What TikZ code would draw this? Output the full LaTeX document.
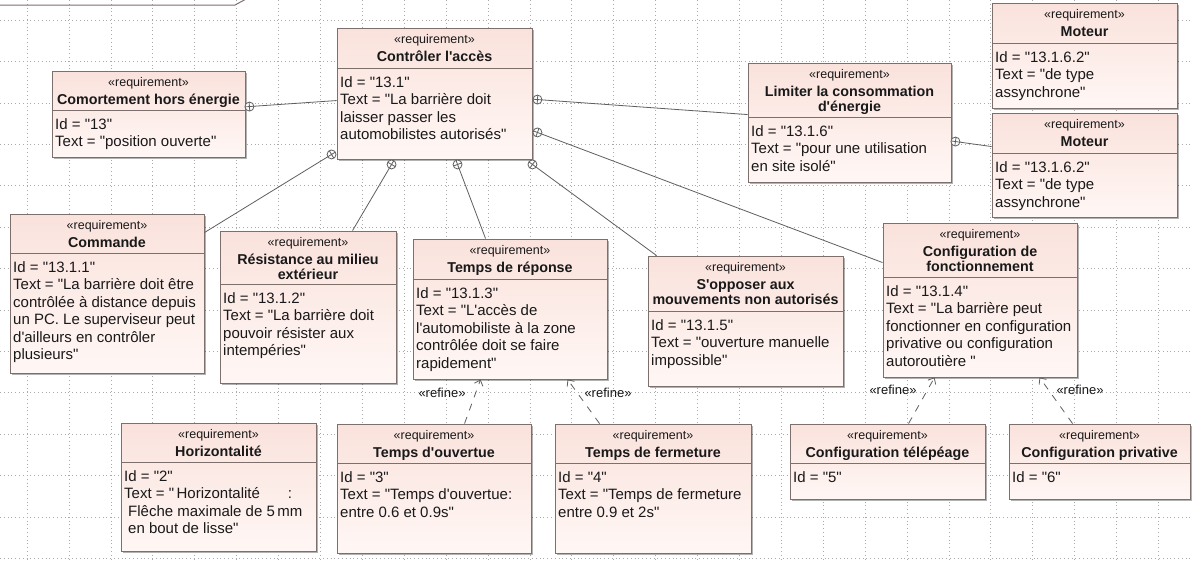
\documentclass[tikz,border=0pt]{standalone}
\usepackage{fontspec}
\setmainfont{Liberation Sans}[Ligatures=TeXOff]
\usetikzlibrary{calc,shadows,arrows.meta}
\definecolor{boxline}{RGB}{125,112,108}
\definecolor{hdrfill}{RGB}{250,226,220}
\definecolor{bodyfill}{RGB}{255,247,245}
\definecolor{conn}{RGB}{95,95,95}
\definecolor{txt}{RGB}{25,25,25}
\definecolor{gridc}{RGB}{170,170,170}
\newcommand\rqstereofont{\fontsize{12.5}{14}\selectfont\mdseries}
\newcommand\rqtitlefont{\fontsize{14.3}{15.5}\selectfont\bfseries}
\newcommand\rqbodyfont{\fontsize{15}{17.5}\selectfont}
\tikzset{
  reqshape/.style={rectangle, draw=boxline, line width=0.9pt, inner sep=0pt,
    top color=hdrfill, bottom color=bodyfill,
    drop shadow={shadow xshift=2pt, shadow yshift=-2pt, fill=black, opacity=0.3}},
  divline/.style={draw=boxline, line width=0.9pt},
  hdrtext/.style={anchor=north, align=center, inner sep=0pt, font=\rqtitlefont, text=txt},
  bodytext/.style={anchor=north west, align=left, inner sep=0pt, font=\rqbodyfont, text=txt},
  connline/.style={draw=conn, line width=0.8pt},
  refline/.style={draw=conn, line width=0.8pt, dash pattern=on 7pt off 7pt,
    -{Straight Barb[length=5pt,width=9pt]}},
  reflabel/.style={inner sep=0pt, font=\fontsize{13}{14}\selectfont, text=txt},
  gridline/.style={draw=gridc, line width=0.5pt, dash pattern=on 0.8pt off 3pt},
}
\newcommand\reqbox[8]{%
  \node[reqshape, minimum width={(#4-#2)*1pt}, minimum height={(#5-#3)*1pt}] (#1) at ({(#2+#4)/2},{(#3+#5)/2}) {};
  \draw[divline] (#2,#6) -- (#4,#6);
  \node[hdrtext] (#1-h) at ({(#2+#4)/2},#3+6) {{\rqstereofont «requirement»}\\[2.5pt]#7};
  \node[bodytext] (#1-b) at (#2+3,#6+8) {#8};
}
\newcommand\containln[2]{%
  \draw[connline] ($(#1)!4.5pt!(#2)$) -- (#2);
  \draw[connline, fill=white] (#1) circle[radius=4.5pt];
  \draw[connline] ($(#1)!4.5pt!(#2)$) -- ($(#1)!-4.5pt!(#2)$)
                  ($(#1)!4.5pt!90:(#2)$) -- ($(#1)!4.5pt!-90:(#2)$);
}
\begin{document}
\begin{tikzpicture}[x=1pt,y=-1pt]
\useasboundingbox (0,0) rectangle (1192,560);
\fill[white] (0,0) rectangle (1192,560);
% grid
\foreach \gx in {0,...,27} \draw[gridline] ({27+41.9*\gx},0) -- ++(0,560);
\foreach \gy in {0,...,13} \draw[gridline] (0,{20+41.4*\gy}) -- ++(1192,0);
% frame tab (cut off)
\draw[draw=boxline, line width=1pt] (-1,5) -- (235,5) -- (248,-2);

% boxes
\reqbox{comort}{52}{71}{245}{157}{110}{Comortement hors énergie}{Id = "13"\\Text = "position ouverte"}
\reqbox{ctrl}{337}{28}{532}{159}{68}{Contrôler l'accès}{Id = "13.1"\\Text = "La barrière doit\\laisser passer les\\automobilistes autorisés"}
\reqbox{limit}{748}{63}{951}{182}{117}{Limiter la consommation\\d'énergie}{Id = "13.1.6"\\Text = "pour une utilisation\\en site isolé"}
\reqbox{motA}{992}{3}{1177}{108}{43}{Moteur}{Id = "13.1.6.2"\\Text = "de type\\assynchrone"}
\reqbox{motB}{992}{113}{1177}{217}{153}{Moteur}{Id = "13.1.6.2"\\Text = "de type\\assynchrone"}
\reqbox{cmd}{10}{214}{204}{373}{253}{Commande}{Id = "13.1.1"\\Text = "La barrière doit être\\contrôlée à distance depuis\\un PC. Le superviseur peut\\d'ailleurs en contrôler\\plusieurs"}
\reqbox{resist}{220}{231}{396}{383}{284}{Résistance au milieu\\extérieur}{Id = "13.1.2"\\Text = "La barrière doit\\pouvoir résister aux\\intempéries"}
\reqbox{trep}{413}{239}{607}{379}{279}{Temps de réponse}{Id = "13.1.3"\\Text = "L'accès de\\l'automobiliste à la zone\\contrôlée doit se faire\\rapidement"}
\reqbox{oppose}{648}{256}{843}{386}{311}{S'opposer aux\\mouvements non autorisés}{Id = "13.1.5"\\Text = "ouverture manuelle\\impossible"}
\reqbox{config}{883}{223}{1077}{377}{277}{Configuration de\\fonctionnement}{Id = "13.1.4"\\Text = "La barrière peut\\fonctionner en configuration\\privative ou configuration\\autoroutière "}
\reqbox{horiz}{121}{423}{316}{551}{462}{Horizontalité}{Id = "2"\\Text = "\,Horizontalité\hspace{28pt}:\\\hspace*{4pt}Flêche maximale de 5\,mm\\\hspace*{4pt}en bout de lisse"}
\reqbox{touv}{337}{424}{531}{553}{463}{Temps d'ouvertue}{Id = "3"\\Text = "Temps d'ouvertue:\\entre 0.6 et 0.9s"}
\reqbox{tferm}{555}{424}{751}{553}{463}{Temps de fermeture}{Id = "4"\\Text = "Temps de fermeture\\entre 0.9 et 2s"}
\reqbox{ctele}{790}{424}{985}{499}{463}{Configuration télépéage}{Id = "5"}
\reqbox{cpriv}{1009}{424}{1190}{499}{463}{Configuration privative}{Id = "6"}

% containment connectors
\coordinate (k1) at ($(comort.north east)+(4,36)$);
\coordinate (k1e) at ($(ctrl.north west)+(0,73)$);
\containln{k1}{k1e}
\coordinate (k2) at ($(ctrl.south west)+(-5,-5)$);
\coordinate (k2e) at ($(cmd.north east)+(0,19)$);
\containln{k2}{k2e}
\coordinate (k3) at ($(ctrl.south west)+(55,5)$);
\coordinate (k3e) at ($(resist.north west)+(133,0)$);
\containln{k3}{k3e}
\coordinate (k4) at ($(ctrl.south west)+(121,5)$);
\coordinate (k4e) at ($(trep.north west)+(73,0)$);
\containln{k4}{k4e}
\coordinate (k5) at ($(ctrl.south east)+(0,5)$);
\coordinate (k5e) at ($(oppose.north west)+(9,0)$);
\containln{k5}{k5e}
\coordinate (k6) at ($(ctrl.south east)+(5,-27)$);
\coordinate (k6e) at ($(config.north west)+(0,40)$);
\containln{k6}{k6e}
\coordinate (k7) at ($(ctrl.north east)+(5,72)$);
\coordinate (k7e) at ($(limit.north west)+(0,52)$);
\containln{k7}{k7e}
\coordinate (k8) at ($(limit.north east)+(4,79)$);
\coordinate (k8e) at ($(motB.north west)+(0,34)$);
\containln{k8}{k8e}

% refine connectors
\coordinate (f1s) at ($(touv.north west)+(128,0)$);
\coordinate (f1e) at ($(trep.south west)+(68,0)$);
\draw[refline] (f1s) -- (f1e);
\coordinate (f2s) at ($(tferm.north west)+(45,0)$);
\coordinate (f2e) at ($(trep.south west)+(155,0)$);
\draw[refline] (f2s) -- (f2e);
\coordinate (f3s) at ($(ctele.north west)+(119,0)$);
\coordinate (f3e) at ($(config.south west)+(52,0)$);
\draw[refline] (f3s) -- (f3e);
\coordinate (f4s) at ($(cpriv.north west)+(64,0)$);
\coordinate (f4e) at ($(config.south west)+(157,0)$);
\draw[refline] (f4s) -- (f4e);

\node[reflabel] (r1) at (442,393) {«refine»};
\node[reflabel] (r2) at (608,393) {«refine»};
\node[reflabel] (r3) at (893,390) {«refine»};
\node[reflabel] (r4) at (1080,390) {«refine»};
\end{tikzpicture}
\end{document}
